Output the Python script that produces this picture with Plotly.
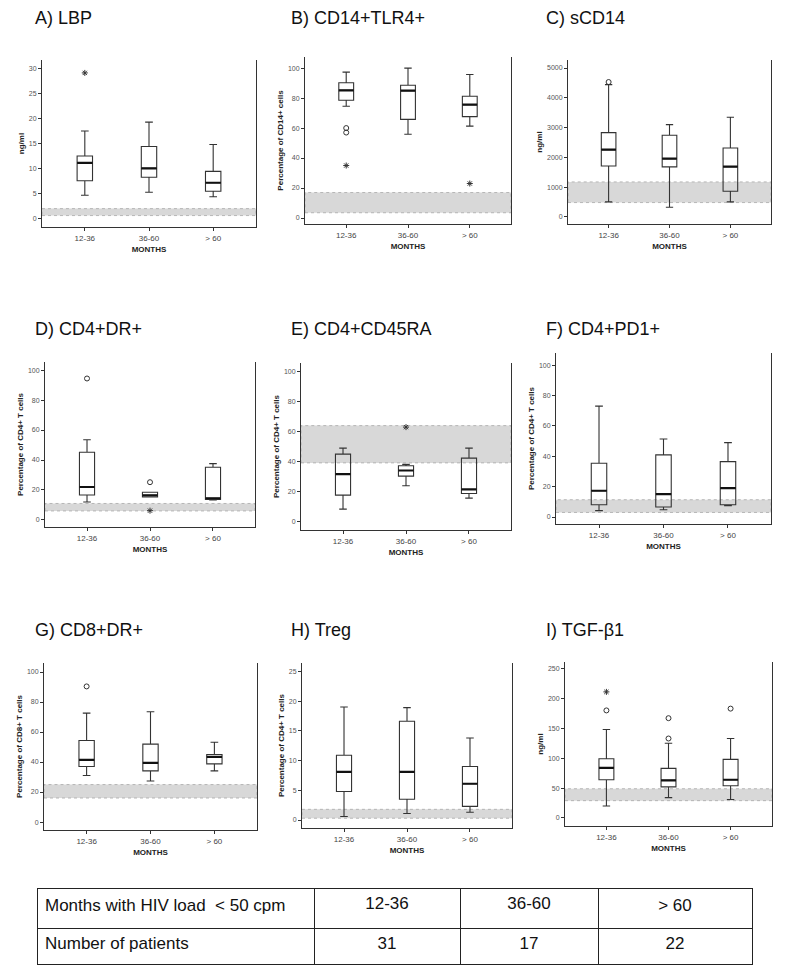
import plotly.graph_objects as go

# page pixel coordinates are converted to figure coordinates (page has 8px body margin)
OFF = 8
W, H = 776, 964

categories = ["12-36", "36-60", "> 60"]

panel_titles = ["A) LBP", "B) CD14+TLR4+", "C) sCD14",
                "D) CD4+DR+", "E) CD4+CD45RA", "F) CD4+PD1+",
                "G) CD8+DR+", "H) Treg", "I) TGF-β1"]
y_titles = ["ng/ml", "Percentage of CD14+ cells", "ng/ml",
            "Percentage of CD4+ T cells", "Percentage of CD4+ T cells", "Percentage of CD4+ T cells",
            "Percentage of CD8+ T cells", "Percentage of CD4+ T cells", "ng/ml"]

# ---- box statistics per panel (12-36, 36-60, >60) ----
lbp = dict(low=[4.6, 5.2, 4.3], q1=[7.5, 8.2, 5.4], med=[11.1, 10.0, 7.1], q3=[12.5, 14.4, 9.4], high=[17.5, 19.3, 14.8])
cd14tlr4 = dict(low=[74.5, 55.9, 61.3], q1=[78.5, 65.8, 67.6], med=[85.2, 85.0, 75.6], q3=[90.2, 88.6, 81.2], high=[97.3, 100.0, 95.7])
scd14 = dict(low=[503, 324, 503], q1=[1711, 1678, 861], med=[2260, 1957, 1689], q3=[2830, 2740, 2315], high=[4441, 3098, 3345])
cd4dr = dict(low=[12.0, 15.4, 13.4], q1=[16.7, 15.4, 13.6], med=[22.0, 16.5, 14.5], q3=[45.2, 18.5, 35.2], high=[53.5, 18.5, 37.6])
cd4cd45ra = dict(low=[8.0, 23.7, 15.4], q1=[17.4, 30.1, 18.5], med=[31.5, 33.9, 21.2], q3=[44.9, 37.1, 42.2], high=[48.9, 38.0, 48.9])
cd4pd1 = dict(low=[4.2, 4.8, 7.5], q1=[8.1, 6.6, 8.1], med=[17.3, 15.1, 19.0], q3=[35.4, 40.9, 36.5], high=[73.0, 51.4, 49.0])
cd8dr = dict(low=[31.0, 27.4, 34.1], q1=[37.0, 34.1, 38.8], med=[41.4, 39.4, 43.4], q3=[54.3, 51.9, 45.0], high=[72.6, 73.5, 53.2])
treg = dict(low=[0.6, 1.1, 1.3], q1=[4.8, 3.5, 2.3], med=[8.1, 8.1, 6.1], q3=[10.9, 16.6, 9.0], high=[19.0, 18.9, 13.8])
tgfb1 = dict(low=[20, 34, 31], q1=[64, 52, 54], med=[84, 63, 64], q3=[99, 83, 98], high=[148, 125, 133])

# ---- outliers: category, value, symbol ----
lbp_out = dict(cat=["12-36"], val=[29.2], sym=["asterisk-open"])
cd14tlr4_out = dict(cat=["12-36", "12-36", "12-36", "> 60"], val=[60, 57, 35, 23],
                    sym=["circle-open", "circle-open", "asterisk-open", "asterisk-open"])
scd14_out = dict(cat=["12-36"], val=[4530], sym=["circle-open"])
cd4dr_out = dict(cat=["12-36", "36-60", "36-60"], val=[94.4, 25.2, 6.2],
                 sym=["circle-open", "circle-open", "asterisk-open"])
cd4cd45ra_out = dict(cat=["36-60"], val=[63], sym=["asterisk-open"])
cd4pd1_out = dict(cat=[], val=[], sym=[])
cd8dr_out = dict(cat=["12-36"], val=[90.4], sym=["circle-open"])
treg_out = dict(cat=[], val=[], sym=[])
tgfb1_out = dict(cat=["12-36", "12-36", "36-60", "36-60", "> 60"], val=[211, 180, 167, 133, 183],
                 sym=["asterisk-open", "circle-open", "circle-open", "circle-open", "circle-open"])

# ---- reference (healthy) ranges shown as shaded bands ----
bands = [[0.5, 1.9], [3.5, 17], [480, 1175], [6, 11], [39, 64], [3, 11.4], [16, 25], [0.3, 1.8], [29, 49]]

# ---- y ticks and ranges ----
y_ticks = [[0, 5, 10, 15, 20, 25, 30], [0, 20, 40, 60, 80, 100], [0, 1000, 2000, 3000, 4000, 5000],
           [0, 20, 40, 60, 80, 100], [0, 20, 40, 60, 80, 100], [0, 20, 40, 60, 80, 100],
           [0, 20, 40, 60, 80, 100], [0, 5, 10, 15, 20, 25], [0, 50, 100, 150, 200, 250]]
y_ranges = [[-1.8, 31.8], [-4, 107.4], [-240, 5270], [-4.7, 105.4], [-6, 106], [-4.6, 108],
            [-5.3, 106], [-1.34, 26.4], [-13.4, 261]]

# ---- table ----
table_header = ["Months with HIV load \u00a0&lt; 50 cpm", "12-36", "36-60", "> 60"]
table_row = ["Number of patients", "31", "17", "22"]

stats = [lbp, cd14tlr4, scd14, cd4dr, cd4cd45ra, cd4pd1, cd8dr, treg, tgfb1]
outs = [lbp_out, cd14tlr4_out, scd14_out, cd4dr_out, cd4cd45ra_out, cd4pd1_out, cd8dr_out, treg_out, tgfb1_out]

# plot area page-pixel boxes (left, right, top, bottom)
boxes_px = [(42, 256, 60, 227), (305, 511, 57, 224), (568, 771, 60, 224),
            (45, 255, 362, 527), (301, 511, 363, 530), (556, 771, 353, 524),
            (44, 257, 663, 830), (302, 512, 663, 828), (565, 772, 662, 826)]
title_px = [(35, 18), (291, 18), (546, 18), (35, 329), (291, 329), (546, 329),
            (35, 630), (291, 630), (546, 630)]


def fx(px):
    return (px - OFF) / W


def fy(py):
    return 1 - (py - OFF) / H


FONT = "Liberation Sans, Arial, sans-serif"
fig = go.Figure()
layout = dict(width=W, height=H, margin=dict(l=0, r=0, t=0, b=0),
              paper_bgcolor="white", plot_bgcolor="white", showlegend=False,
              boxmode="overlay", font=dict(family=FONT, color="#222"))
annotations = []
shapes = []

for i in range(9):
    ax = "" if i == 0 else str(i + 1)
    xa, ya = "x" + ax, "y" + ax
    s = stats[i]
    l, r, t, b = boxes_px[i]
    layout["xaxis" + ax] = dict(
        domain=[fx(l), fx(r)], anchor=ya, type="category", categoryorder="array",
        categoryarray=categories, range=[-0.667, 2.667], showline=True, linecolor="#333",
        linewidth=1, ticks="outside", ticklen=3, tickcolor="#333",
        tickfont=dict(size=8, color="#444"), showgrid=False, zeroline=False,
        title=dict(text="<b>MONTHS</b>", font=dict(size=8, color="#222"), standoff=4))
    layout["yaxis" + ax] = dict(
        domain=[fy(b), fy(t)], anchor=xa, range=y_ranges[i], tickvals=y_ticks[i],
        showline=True, linecolor="#333", linewidth=1, mirror=True, ticks="outside", ticklen=3,
        tickcolor="#333", tickfont=dict(size=7, color="#555"), showgrid=False, zeroline=False,
        title=dict(text="<b>" + y_titles[i] + "</b>", font=dict(size=8, color="#222"), standoff=3))
    shapes.append(dict(type="rect", xref=xa + " domain", yref=ya, x0=0, x1=1,
                       y0=bands[i][0], y1=bands[i][1], layer="below",
                       fillcolor="rgba(190,190,190,0.6)",
                       line=dict(color="rgba(160,160,160,0.7)", width=1, dash="dot")))
    fig.add_trace(go.Box(x=categories, q1=s["q1"], median=s["med"], q3=s["q3"],
                         lowerfence=s["low"], upperfence=s["high"], width=0.24, whiskerwidth=0.5,
                         fillcolor="rgba(255,255,255,0)", line=dict(color="#333", width=1.1),
                         boxpoints=False, hoverinfo="skip", xaxis=xa, yaxis=ya))
    fig.add_trace(go.Box(x=categories, q1=s["med"], median=s["med"], q3=s["med"],
                         lowerfence=s["med"], upperfence=s["med"], width=0.24, whiskerwidth=0,
                         fillcolor="rgba(0,0,0,0)", line=dict(color="#111", width=2.2),
                         boxpoints=False, hoverinfo="skip", xaxis=xa, yaxis=ya))
    o = outs[i]
    if o["val"]:
        fig.add_trace(go.Scatter(x=o["cat"], y=o["val"], mode="markers",
                                 marker=dict(symbol=o["sym"], size=5, color="#333",
                                             line=dict(color="#333", width=1)),
                                 xaxis=xa, yaxis=ya, hoverinfo="skip"))
    tx, ty = title_px[i]
    annotations.append(dict(text=panel_titles[i], xref="paper", yref="paper", x=fx(tx - 2), y=fy(ty),
                            xanchor="left", yanchor="middle", showarrow=False,
                            font=dict(size=18, color="#111", family=FONT)))

fig.add_trace(go.Table(
    domain=dict(x=[fx(37), fx(752)], y=[fy(966), fy(888)]),
    columnwidth=[277, 146, 138, 154],
    header=dict(values=table_header, align=["left", "center", "center", "center"],
                height=40, line=dict(color="#222", width=1), fill=dict(color="white"),
                font=dict(size=17, color="#111", family=FONT)),
    cells=dict(values=[[v] for v in table_row], align=["left", "center", "center", "center"],
               height=36, line=dict(color="#222", width=1), fill=dict(color="white"),
               font=dict(size=17, color="#111", family=FONT))))

layout["annotations"] = annotations
layout["shapes"] = shapes
fig.update_layout(**layout)
fig.write_html("out.html")
